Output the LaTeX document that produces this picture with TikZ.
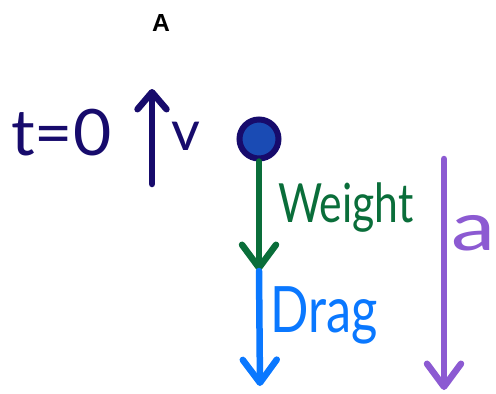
\documentclass[tikz,border=0pt]{standalone}
\usepackage{fontspec}
\usepackage{graphicx}
\usetikzlibrary{arrows.meta}
\newfontfamily\hand{Lato}
\newfontfamily\labelfont{Liberation Sans}
\definecolor{navy}{HTML}{170B6C}
\definecolor{ballblue}{HTML}{1A4BB4}
\definecolor{wgreen}{HTML}{0A6E3A}
\definecolor{dblue}{HTML}{0A78FF}
\definecolor{apurple}{HTML}{8C5AD2}
\tikzset{
  vec/.style={line width=6.5pt, line cap=round,
    -{Straight Barb[length=23pt 0 0, width=34pt 0 0, round]}},
  handtext/.style={inner sep=0pt, anchor=base west},
}
\begin{document}
\begin{tikzpicture}[x=1pt,y=-1pt]
  \useasboundingbox (0,0) rectangle (496,394);
  \fill[white] (0,0) rectangle (496,394);

  % panel label
  \node[inner sep=0pt] (lbl) at (161,23) {\resizebox{!}{17pt}{\labelfont\bfseries A}};

  % initial condition and velocity
  \node[handtext, text=navy, font=\hand\fontsize{64}{70}\selectfont, xscale=1.03] (tzero) at (11,155) {t=0};
  \coordinate (vbot) at (152,184);
  \coordinate (vtop) at (152,89);
  \draw[vec, navy, -{Straight Barb[length=17pt 0 0, width=29pt 0 0, round]}] (vbot) -- (vtop);
  \node[handtext, text=navy, font=\hand\fontsize{56}{60}\selectfont] (vel) at (171,150) {v};

  % ball
  \node[circle, minimum size=39pt, inner sep=0pt, fill=ballblue, draw=navy, line width=6pt] (ball) at (259,139) {};

  % weight
  \coordinate (wtip) at (259,271);
  \draw[vec, wgreen] (ball.south) -- (wtip);
  \node[handtext, text=wgreen, font=\hand\fontsize{54}{60}\selectfont, xscale=0.79] (weight) at (278,222) {Weight};

  % drag
  \coordinate (dtip) at (260,386);
  \draw[vec, dblue] (wtip) -- (dtip);
  \node[handtext, text=dblue, font=\hand\fontsize{64}{70}\selectfont, xscale=0.79] (drag) at (270,332) {Drag};

  % acceleration
  \coordinate (atop) at (444,159);
  \coordinate (abot) at (444,390);
  \draw[vec, apurple] (atop) -- (abot);
  \node[handtext, text=apurple, font=\hand\fontsize{68}{70}\selectfont, xscale=1.3] (acc) at (451,250) {a};
\end{tikzpicture}
\end{document}
